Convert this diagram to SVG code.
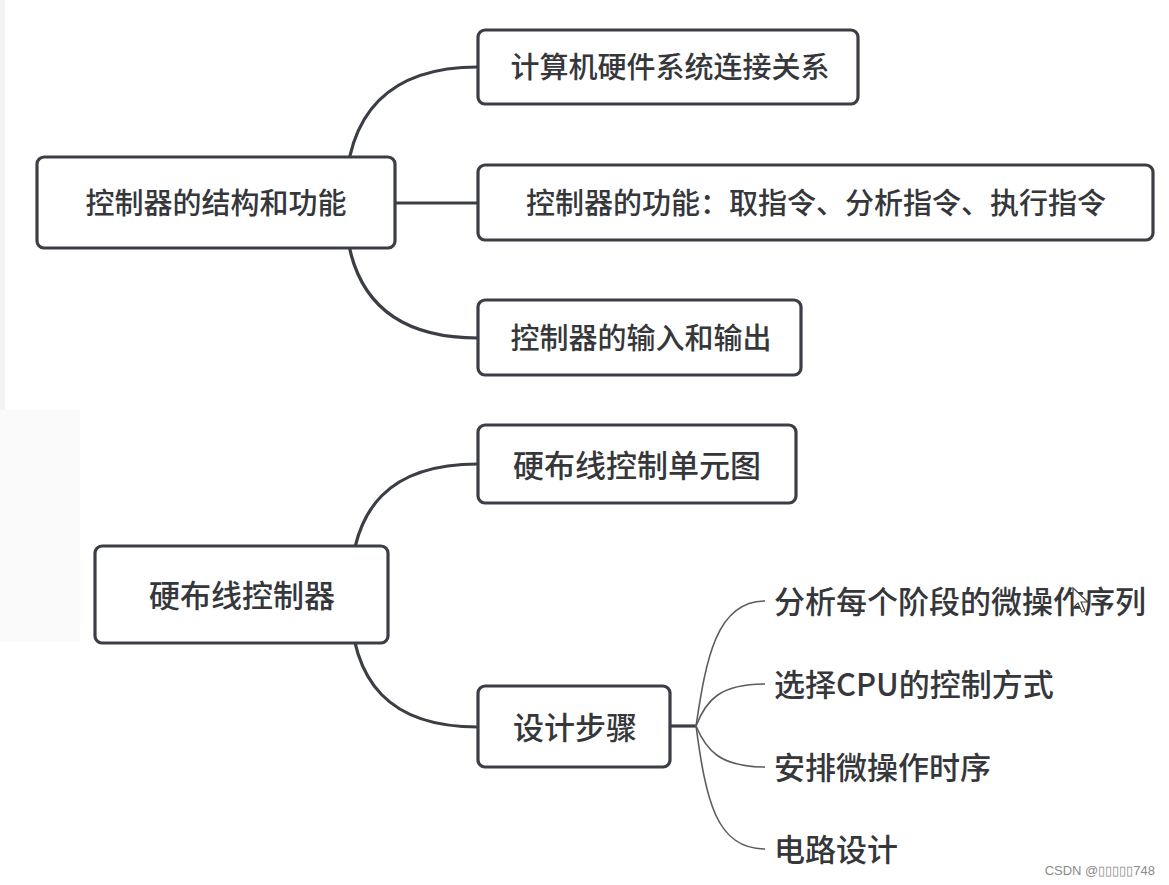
<svg xmlns="http://www.w3.org/2000/svg" width="1169" height="885" viewBox="0 0 1169 885">
<style>
.box{fill:#fff;stroke:#3b3e44;stroke-width:3.2}
.t{font-family:"Noto Sans CJK SC","Noto Sans",sans-serif;fill:#35373b;font-weight:500;text-anchor:middle;dominant-baseline:central}
.top{font-size:29px}
.bot{font-size:31px}
.leaf{font-family:"Noto Sans CJK SC","Noto Sans",sans-serif;fill:#35373b;font-weight:500;font-size:31px;dominant-baseline:central}
.c{fill:none;stroke:#3b3e44;stroke-width:3.2}
.cl{fill:none;stroke:#5a5c60;stroke-width:1.6}
</style>
<rect width="1169" height="885" fill="#fff"/>
<rect x="0" y="0" width="5" height="410" fill="#f3f3f3"/>
<rect x="0" y="410" width="80" height="232" fill="#fafafa"/>
<g id="connectors">
<path class="c" d="M345 203 C345 110 392 67 478 67"/>
<path class="c" d="M395 203 L478 203"/>
<path class="c" d="M345 203 C345 296 392 338 478 338"/>
<path class="c" d="M350 595 C350 505 392 464 478 464"/>
<path class="c" d="M350 595 C350 685 392 727 478 727"/>
<path class="c" d="M670 726 L696 726"/>
<path class="cl" d="M696 726 C706 660 716 601 765 601"/>
<path class="cl" d="M696 726 C706 700 720 684 765 684"/>
<path class="cl" d="M696 726 C706 750 720 767 765 767"/>
<path class="cl" d="M696 726 C706 800 716 849 765 849"/>
</g>
<g id="n1"><rect class="box" x="37" y="157" width="358" height="91" rx="7"/><text class="t top" x="216" y="201">控制器的结构和功能</text></g>
<g id="n1a"><rect class="box" x="478" y="30" width="380" height="74" rx="7"/><text class="t top" x="670" y="65">计算机硬件系统连接关系</text></g>
<g id="n1b"><rect class="box" x="478" y="165" width="675" height="75" rx="7"/><text class="t top" x="816" y="201">控制器的功能：取指令、分析指令、执行指令</text></g>
<g id="n1c"><rect class="box" x="478" y="300" width="323" height="75" rx="7"/><text class="t top" x="641" y="336">控制器的输入和输出</text></g>
<g id="n2"><rect class="box" x="95" y="546" width="293" height="97" rx="7"/><text class="t bot" x="242" y="593">硬布线控制器</text></g>
<g id="n2a"><rect class="box" x="478" y="425" width="318" height="78" rx="7"/><text class="t bot" x="637" y="463">硬布线控制单元图</text></g>
<g id="n2b"><rect class="box" x="478" y="686" width="192" height="81" rx="7"/><text class="t bot" x="575" y="725">设计步骤</text></g>
<g id="l1"><text class="leaf" x="774" y="599">分析每个阶段的微操作序列</text></g>
<g id="l2"><text class="leaf" x="774" y="682">选择CPU的控制方式</text></g>
<g id="l3"><text class="leaf" x="774" y="765">安排微操作时序</text></g>
<g id="l4"><text class="leaf" x="774" y="847">电路设计</text></g>
<path d="M1073 588 L1073 608 L1078 603 L1082 612 L1085 611 L1081 602 L1088 602 Z" fill="#fff" stroke="#444" stroke-width="1.2"/>
<text x="1155" y="870" font-family="Liberation Sans,sans-serif" font-size="13" fill="#8a8a8a" text-anchor="end" dominant-baseline="central">CSDN @▯▯▯▯▯748</text>
</svg>
